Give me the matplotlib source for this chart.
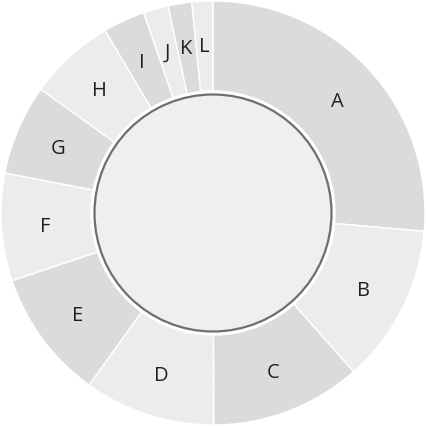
import matplotlib.pyplot as plt
from matplotlib.patches import Circle

labels = ["A", "B", "C", "D", "E", "F", "G", "H", "I", "J", "K", "L"]
values = [26.4, 12.1, 11.5, 10.0, 9.9, 8.2, 6.9, 6.6, 3.2, 1.9, 1.8, 1.6]
colors = ["#dbdbdb", "#ececec"] * 6

fig = plt.figure(figsize=(4.26, 4.26), dpi=100)
ax = fig.add_axes([0, 0, 1, 1])

outer = 212
width = 90
wedges, texts = ax.pie(values, radius=outer, startangle=90, counterclock=False,
                       colors=colors, labels=labels, labeldistance=0.795,
                       wedgeprops=dict(width=width, edgecolor="white", linewidth=1),
                       textprops=dict(fontsize=14.5, color="#231f20", family="Open Sans"))
for t in texts:
    t.set_ha("center")
    t.set_va("center_baseline")

# inner disc
ax.add_patch(Circle((0, 0), 118.5, facecolor="#f0efee", edgecolor="#6e6e6e", linewidth=1.6, zorder=3))

# pie resets the limits, so set them afterwards
ax.set_xlim(-213, 213)
ax.set_ylim(-213, 213)
ax.set_aspect("equal")
ax.axis("off")

fig.savefig("out.png", dpi=100, facecolor="white")
